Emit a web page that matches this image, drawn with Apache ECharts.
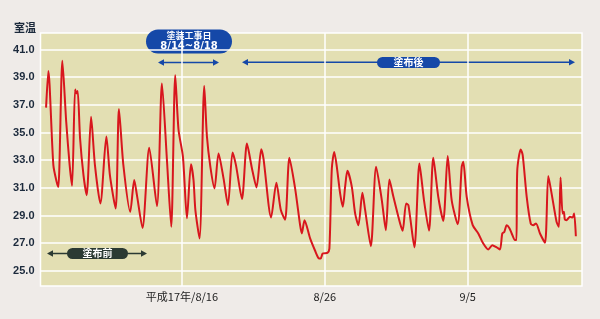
<!DOCTYPE html>
<html>
<head>
<meta charset="utf-8">
<script src="https://cdn.jsdelivr.net/npm/echarts@6/dist/echarts.min.js"></script>
<style>
html,body{margin:0;padding:0;background:#efebe8;}
#c{width:600px;height:319px;}
</style>
</head>
<body>
<div id="c"></div>
<script>
// x: days relative to 平成17年 8/16 0:00 ; y: room temperature (°C)
const days = [-9.51,-9.35,-9.00,-8.77,-8.65,-8.37,-8.10,-7.86,-7.69,-7.48,-7.39,-7.30,-7.13,-6.89,-6.67,-6.36,-6.09,-5.71,-5.29,-5.04,-4.64,-4.41,-4.10,-3.62,-3.34,-3.15,-2.76,-2.29,-1.75,-1.40,-1.05,-0.75,-0.47,-0.24,0.07,0.35,0.63,0.81,0.94,1.23,1.56,1.75,1.99,2.28,2.56,2.91,3.22,3.54,3.78,4.20,4.55,4.90,5.22,5.55,5.71,6.24,6.61,6.92,7.22,7.52,7.92,8.27,8.39,8.58,8.97,9.32,9.57,9.71,9.85,10.18,10.32,10.49,10.66,10.84,11.07,11.26,11.42,11.58,11.89,12.12,12.35,12.63,12.82,13.22,13.59,13.99,14.27,14.52,14.80,15.27,15.45,15.69,15.85,16.27,16.62,16.94,17.29,17.59,17.94,18.29,18.60,18.88,19.30,19.58,19.69,19.93,20.35,20.74,21.09,21.44,21.72,22.03,22.26,22.42,22.56,22.73,22.91,23.08,23.31,23.41,23.47,23.71,23.85,24.13,24.41,24.59,24.78,25.06,25.41,25.64,25.87,26.22,26.38,26.50,26.64,26.73,26.80,26.92,27.03,27.15,27.34,27.45,27.57];
const temps = [36.8,39.45,32.64,31.43,31.07,40.19,35.78,32.64,31.15,38.12,37.83,38.0,34.57,31.9,30.47,36.14,32.64,29.87,34.72,31.9,29.5,36.7,32.64,29.26,31.56,30.47,28.1,33.9,29.68,38.55,33.0,28.18,39.15,35.2,33.24,28.8,32.7,31.56,29.39,27.34,38.36,34.7,32.52,30.96,33.49,31.68,29.75,33.56,32.64,30.2,34.2,32.4,31.03,33.8,33.1,28.86,31.37,29.39,28.7,33.17,30.96,28.3,27.7,28.66,27.34,26.45,25.91,25.89,26.25,26.3,26.6,32.4,33.6,32.52,30.6,29.63,31.07,32.23,31.07,29.15,28.3,30.64,29.4,26.78,32.52,30.1,27.94,31.6,30.35,28.42,27.9,29.87,29.75,26.69,32.76,30.1,27.9,33.17,30.35,28.61,33.31,30.1,28.37,32.52,32.88,30.35,28.3,27.7,26.97,26.54,26.85,26.69,26.54,27.7,27.8,28.3,28.1,27.7,27.22,27.22,32.28,33.78,33.37,30.35,28.42,28.3,28.42,27.7,27.02,31.85,30.6,28.54,28.18,31.75,29.15,29.27,28.71,28.66,28.78,28.9,28.86,29.15,27.5];
const yTicks = [25,27,29,31,33,35,37,39,41];
const xTicks = [0,10,20];
const xTickLabels = ['平成17年/8/16','8/26','9/5'];

const chart = echarts.init(document.getElementById('c'), null, {renderer:'canvas'});
const red = '#d8161d';
const blue = '#1548a8';
const dark = '#2b3a33';

function arrow(x1, x2, y, color) {
  const h = 6, w = 3.2;
  return [
    {type:'line', shape:{x1:x1+h-1, y1:y, x2:x2-h+1, y2:y}, style:{stroke:color, lineWidth:1.5}, silent:true},
    {type:'polygon', shape:{points:[[x1,y],[x1+h,y-w],[x1+h,y+w]]}, style:{fill:color}, silent:true},
    {type:'polygon', shape:{points:[[x2,y],[x2-h,y-w],[x2-h,y+w]]}, style:{fill:color}, silent:true}
  ];
}

const graphics = [].concat(
  [{type:'text', x:25, y:28, style:{text:'室温', fill:'#1c2a3c', font:'bold 11px "Noto Sans CJK JP"', align:'center', verticalAlign:'middle'}, silent:true}],
  arrow(47, 147, 253.5, dark),
  [{type:'rect', shape:{x:67, y:248, width:61, height:11, r:5.5}, style:{fill:dark}, silent:true},
   {type:'text', x:97.5, y:253.5, style:{text:'塗布前', fill:'#fff', font:'bold 10px "Noto Sans CJK JP"', align:'center', verticalAlign:'middle'}, silent:true}],
  arrow(158, 219, 62.5, blue),
  [{type:'rect', shape:{x:146, y:29.5, width:86, height:24, r:12}, style:{fill:blue}, silent:true},
   {type:'text', x:189, y:35.8, style:{text:'塗装工事日', fill:'#fff', font:'bold 9px "Noto Sans CJK JP"', align:'center', verticalAlign:'middle'}, silent:true},
   {type:'text', x:189, y:46, style:{text:'8/14~8/18', fill:'#fff', font:'bold 10px "DejaVu Sans"', align:'center', verticalAlign:'middle'}, silent:true}],
  arrow(242, 575, 62.3, blue),
  [{type:'rect', shape:{x:377, y:57, width:63, height:11, r:5.5}, style:{fill:blue}, silent:true},
   {type:'text', x:408.5, y:62.5, style:{text:'塗布後', fill:'#fff', font:'bold 10px "Noto Sans CJK JP"', align:'center', verticalAlign:'middle'}, silent:true}]
);

chart.setOption({
  backgroundColor: '#efebe8',
  animation: false,
  grid: {left:40.5, right:18, top:33, bottom:33, show:true, backgroundColor:'#e3dfb3', borderColor:'#ffffff', borderWidth:1.5},
  xAxis: {
    type:'value', min:-9.9, max:28,
    axisLine:{show:false}, axisTick:{show:false, customValues:xTicks},
    axisLabel:{customValues:xTicks, margin:5, color:'#222', fontSize:11, fontFamily:'"Noto Sans CJK JP"',
      formatter:(v)=>{const i=xTicks.indexOf(v); return i>=0?xTickLabels[i]:'';}},
    splitLine:{show:true, lineStyle:{color:'#ffffff', width:1.5}}
  },
  yAxis: {
    type:'value', min:23.9, max:42.2,
    axisLine:{show:false}, axisTick:{show:false, customValues:yTicks},
    axisLabel:{customValues:yTicks, margin:6, color:'#1c2a3c', fontSize:11, fontWeight:'bold', fontFamily:'"Liberation Sans"',
      formatter:(v)=>v.toFixed(1)},
    splitLine:{show:true, lineStyle:{color:'#ffffff', width:1.5}}
  },
  series: [{
    type:'line', showSymbol:false, smooth:0.25,
    data: days.map((d,i)=>[d,temps[i]]),
    lineStyle:{color:red, width:2}, itemStyle:{color:red}
  }],
  graphic: graphics
});
</script>
</body>
</html>
